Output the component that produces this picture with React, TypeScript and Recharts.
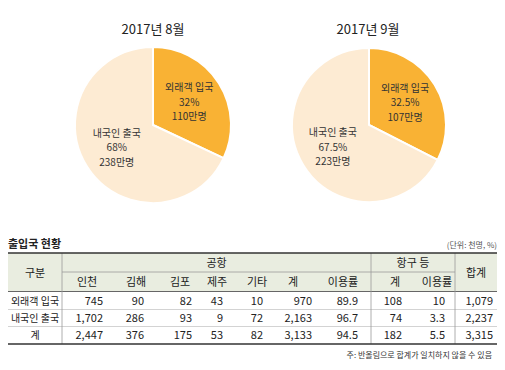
import React from 'react';
import { PieChart, Pie, Cell } from 'recharts';

// ---- Pie data ----
const sliceNames = ['외래객 입국', '내국인 출국'];
const augShare = [32, 68];
const augCount = [110, 238];
const sepShare = [32.5, 67.5];
const sepCount = [107, 223];
const pieTitles = ['2017년 8월', '2017년 9월'];
const sliceColors = ['#F9B234', '#FDEBD3'];

// ---- Table data ----
const tableTitle = '출입국 현황';
const unitText = '(단위: 천명, %)';
const noteText = '주: 반올림으로 합계가 일치하지 않을 수 있음';
const groupHeaders = ['공항', '항구 등'];
const subHeaders = ['인천', '김해', '김포', '제주', '기타', '계', '이용률', '계', '이용률'];
const rowLabels = ['외래객 입국', '내국인 출국', '계'];
const foreignRow = ['745', '90', '82', '43', '10', '970', '89.9', '108', '10', '1,079'];
const domesticRow = ['1,702', '286', '93', '9', '72', '2,163', '96.7', '74', '3.3', '2,237'];
const totalRow = ['2,447', '376', '175', '53', '82', '3,133', '94.5', '182', '5.5', '3,315'];

const FONT = "'Noto Sans CJK KR', 'Noto Sans', sans-serif";

const buildData = (shares: number[], counts: number[]) =>
  sliceNames.map((name, i) => ({ name, value: shares[i], share: shares[i], count: counts[i] }));

const augData = buildData(augShare, augCount);
const sepData = buildData(sepShare, sepCount);

const makeLabel = (shares: number[], counts: number[]) => (props: any) => {
  const { cx, cy, midAngle, outerRadius, index } = props;
  const RAD = Math.PI / 180;
  const r = outerRadius * 0.55;
  const x = cx + r * Math.cos(-midAngle * RAD);
  const y = cy + r * Math.sin(-midAngle * RAD);
  return (
    <text x={x} y={y} textAnchor="middle" fill="#333" fontSize={10} fontFamily={FONT}>
      <tspan x={x} dy={-11}>{sliceNames[index]}</tspan>
      <tspan x={x} dy={14.5}>{shares[index]}%</tspan>
      <tspan x={x} dy={14.5}>{counts[index]}만명</tspan>
    </text>
  );
};

// table layout
const valueRight = [103, 144, 192, 223, 263, 312, 358, 402, 445, 493];
const subCenter = [87, 136, 180, 217, 257, 293, 343, 395, 437];
const rowCenter = [301, 318, 335];
const rows = [foreignRow, domesticRow, totalRow];

export default function App() {
  return (
    <div style={{ position: 'absolute', left: 0, top: 0, width: 505, height: 370, background: '#fff', fontFamily: FONT }}>
      <PieChart
        width={505}
        height={230}
        margin={{ top: 0, right: 0, bottom: 0, left: 0 }}
        style={{ position: 'absolute', left: 0, top: 0 }}
      >
        <Pie
          data={augData}
          dataKey="value"
          cx={153}
          cy={125}
          outerRadius={78}
          startAngle={90}
          endAngle={-270}
          stroke="#fff"
          strokeWidth={2}
          labelLine={false}
          label={makeLabel(augShare, augCount)}
          isAnimationActive={false}
        >
          {augData.map((d, i) => (
            <Cell key={d.name} fill={sliceColors[i]} />
          ))}
        </Pie>
        <Pie
          data={sepData}
          dataKey="value"
          cx={369}
          cy={125}
          outerRadius={77}
          startAngle={90}
          endAngle={-270}
          stroke="#fff"
          strokeWidth={2}
          labelLine={false}
          label={makeLabel(sepShare, sepCount)}
          isAnimationActive={false}
        >
          {sepData.map((d, i) => (
            <Cell key={d.name} fill={sliceColors[i]} />
          ))}
        </Pie>
      </PieChart>
      <svg width={505} height={370} style={{ position: 'absolute', left: 0, top: 0, pointerEvents: 'none' }}>
        <text x={153} y={34} textAnchor="middle" fontSize={13} fill="#222" fontFamily={FONT}>{pieTitles[0]}</text>
        <text x={368} y={34} textAnchor="middle" fontSize={13} fill="#222" fontFamily={FONT}>{pieTitles[1]}</text>

        <text x={8} y={248} fontSize={11} fontWeight="bold" fill="#222" fontFamily={FONT}>{tableTitle}</text>
        <text x={497} y={248} textAnchor="end" fontSize={8} fill="#555" fontFamily={FONT}>{unitText}</text>

        <rect x={8} y={253} width={489} height={38.5} fill="#E9EDE0" />
        <line x1={62} x2={455} y1={272} y2={272} stroke="#9a9a9a" strokeWidth={0.8} />
        <line x1={8} x2={497} y1={291.5} y2={291.5} stroke="#666" strokeWidth={1} />
        <line x1={8} x2={497} y1={309.5} y2={309.5} stroke="#c8c8c8" strokeWidth={0.8} />
        <line x1={8} x2={497} y1={326.5} y2={326.5} stroke="#c8c8c8" strokeWidth={0.8} />
        {[62, 371, 455].map((x) => (
          <line key={x} x1={x} x2={x} y1={253} y2={344} stroke="#9a9a9a" strokeWidth={0.8} />
        ))}
        <line x1={8} x2={497} y1={253} y2={253} stroke="#333" strokeWidth={1.5} />
        <line x1={8} x2={497} y1={344} y2={344} stroke="#333" strokeWidth={1.5} />

        <text x={35} y={276.5} textAnchor="middle" fontSize={11} fill="#222" fontFamily={FONT}>구분</text>
        <text x={216.5} y={266.5} textAnchor="middle" fontSize={11} fill="#222" fontFamily={FONT}>{groupHeaders[0]}</text>
        <text x={413} y={266.5} textAnchor="middle" fontSize={11} fill="#222" fontFamily={FONT}>{groupHeaders[1]}</text>
        <text x={476} y={276.5} textAnchor="middle" fontSize={11} fill="#222" fontFamily={FONT}>합계</text>
        {subHeaders.map((h, i) => (
          <text key={i} x={subCenter[i]} y={285.5} textAnchor="middle" fontSize={11} fill="#222" fontFamily={FONT}>{h}</text>
        ))}
        {rows.map((row, r) => (
          <g key={r}>
            <text x={35} y={rowCenter[r] + 3.5} textAnchor="middle" fontSize={10} fill="#222" fontFamily={FONT}>{rowLabels[r]}</text>
            {row.map((v, c) => (
              <text key={c} x={valueRight[c]} y={rowCenter[r] + 3.8} textAnchor="end" fontSize={11} fill="#222" fontFamily={FONT}>{v}</text>
            ))}
          </g>
        ))}
        <text x={492} y={358} textAnchor="end" fontSize={8} fill="#333" fontFamily={FONT}>{noteText}</text>
      </svg>
    </div>
  );
}
